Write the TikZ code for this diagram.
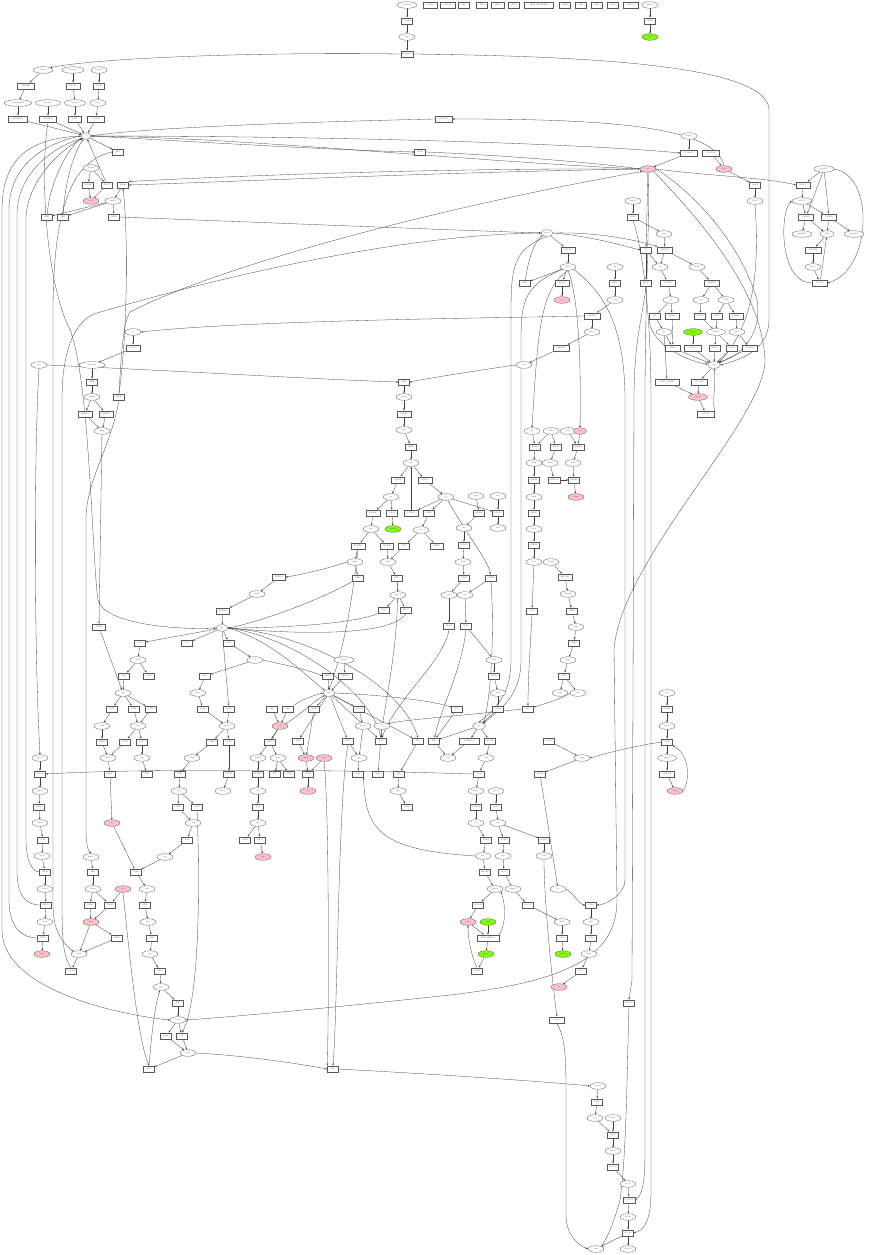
\documentclass[tikz,border=0pt]{standalone}
\usepackage{fontspec}
\setmainfont{Liberation Serif}
\usetikzlibrary{shapes.geometric,arrows.meta}
\definecolor{pinkc}{HTML}{FFC0CB}
\definecolor{greenc}{HTML}{7FFF00}
\pgfdeclarelayer{bg}
\pgfsetlayers{bg,main}
\begin{document}
\begin{tikzpicture}[x=1pt,y=-1pt,
  every node/.style={font=\fontsize{2.2}{2.5}\selectfont,text=black!60},
  bx/.style={draw=black!65,fill=white,rectangle,inner xsep=1.3pt,inner ysep=0pt,minimum height=6.6pt,minimum width=11pt,line width=0.3pt},
  el/.style={draw=black!65,fill=white,ellipse,inner xsep=0.3pt,inner ysep=0pt,minimum height=6.6pt,minimum width=16pt,line width=0.3pt},
  pk/.style={el,fill=pinkc},
  gn/.style={el,fill=greenc},
  ar/.style={-{Stealth[length=2.2pt,width=1.7pt]},line width=0.3pt,draw=black!75}]
\useasboundingbox (0,0) rectangle (872,1255);
% ---------- top row
\node[el,minimum width=20pt] (t0) at (407,5) {glc-D[e]};
\node[bx] (t1) at (407,21) {GLCpts};
\node[el] (t2) at (407,37) {g6p};
\node[bx] (t3) at (407,54) {BIOMASS};
\node[bx,minimum width=14pt] (ta) at (430,5) {GLCDe};
\node[bx,minimum width=15pt] (tb) at (448,5) {GLCDy};
\node[bx] (tc) at (464,5) {PPS};
\node[bx] (td) at (482,5) {PYK};
\node[bx,minimum width=13pt] (te) at (498,5) {ADK1};
\node[bx] (tf) at (514,5) {TKT2};
\node[bx,minimum width=29pt] (tg) at (539,5) {TEXT\_TRANSRED};
\node[bx] (th) at (565,5) {SDHA};
\node[bx] (ti) at (581,5) {EDD};
\node[bx] (tj) at (597,5) {SHE};
\node[bx] (tk) at (613,5) {SUCI};
\node[bx,minimum width=15pt] (tl) at (631,5) {NAL1\_1};
\node[el] (r0) at (650,5) {nh4[e]};
\node[bx] (r1) at (650,21) {NH4t};
\node[gn] (r2) at (650,37) {nh4};
% ---------- cluster A
\node[el,minimum width=20pt] (a1) at (43,70) {xylose};
\node[el,minimum width=22pt] (a2) at (73,70) {fucose[e]};
\node[el] (a3) at (99,70) {lac-L[e]};
\node[bx,minimum width=17pt] (a4) at (26,86) {OPMDH};
\node[bx,minimum width=14pt] (a5) at (73,86) {DSCLE};
\node[bx] (a6) at (99,86) {LCAD};
\node[el,minimum width=28pt] (a7) at (18,103) {oxoglutarate-L};
\node[el,minimum width=25pt] (a8) at (48,103) {mal-D[e]};
\node[el,minimum width=21pt] (a9) at (75,103) {fuc-L[e]};
\node[el] (a10) at (98,103) {lac-L};
\node[bx,minimum width=19pt] (a11) at (18,119) {BIOMVAL};
\node[bx,minimum width=17pt] (a12) at (48,119) {GLOBAL};
\node[bx,minimum width=13pt] (a13) at (75,119) {EDA};
\node[bx,minimum width=17pt] (a14) at (96,119) {LLACD};
\node[el,minimum width=10pt] (H1) at (86,136) {h};
\node[bx] (a15) at (118,152) {PPS};
\node[el] (a16) at (91,168) {lactose};
\node[bx] (a17) at (88,185) {FUCdh};
\node[bx] (a18) at (107,185) {FUCPI};
\node[bx] (a19) at (123,185) {NADH};
\node[pk] (a20) at (91,201) {fuc-L};
\node[el] (a21) at (113,201) {mal-L};
\node[bx] (a22) at (47,217) {ME1};
\node[bx] (a23) at (63,217) {ME2};
\node[bx] (a24) at (114,217) {MDH};
% ---------- middle top
\node[bx,minimum width=17pt] (M1) at (444,119) {ALATA\_L};
\node[bx] (M2) at (420,152) {PRO1};
\node[el,minimum width=12pt] (H2) at (547,233) {glu-L};
\node[bx,minimum width=14pt] (M3) at (568,250) {ASPTA};
\node[el] (M4) at (568,267) {asp-L};
\node[bx] (M5) at (525,283) {ASPT};
\node[bx,minimum width=14pt] (M6) at (562,283) {ASNS2};
\node[pk] (M7) at (562,300) {asn-L};
% ---------- cluster C
\node[el] (C1) at (689,136) {etoh[e]};
\node[bx,minimum width=17pt] (C2) at (689,153) {ACALD};
\node[bx,minimum width=17pt] (C3) at (711,153) {ALCD2x};
\node[pk] (P2) at (724,169) {acald};
\node[pk] (P1) at (648,169) {co2};
\node[bx] (C4) at (755,185) {ALAR};
\node[el] (C5) at (755,201) {ala-D};
\node[el,minimum width=20pt] (C6) at (824,169) {malACP};
\node[bx,minimum width=14pt] (C7) at (803,185) {KAS15};
\node[el,minimum width=20pt] (C8) at (802,201) {acACP};
\node[bx,minimum width=15pt] (C9) at (806,217) {C140SN};
\node[bx,minimum width=15pt] (C10) at (829,217) {C160SN};
\node[el,minimum width=20pt] (C11) at (802,234) {palmACP};
\node[el,minimum width=14pt] (C12) at (827,234) {ACP};
\node[el,minimum width=20pt] (C13) at (854,234) {myrsACP};
\node[bx,minimum width=16pt] (C14) at (813,250) {ACOATA};
\node[el] (C15) at (813,267) {accoa};
\node[bx,minimum width=15pt] (C16) at (820,283) {KAS14};
\node[el] (C17) at (633,201) {fum[e]};
\node[bx] (C18) at (633,217) {FUMt};
\node[el] (C19) at (664,234) {fum};
\node[bx] (C20) at (646,250) {CS};
\node[bx,minimum width=15pt] (C21) at (665,250) {MALTD};
\node[el] (C22) at (660,267) {cit};
\node[el] (C23) at (697,267) {mal-L};
\node[el] (C24) at (615,267) {cbp};
\node[bx] (C25) at (615,283) {ASPCT};
\node[el] (C26) at (615,300) {cbasp};
\node[bx] (C27) at (646,283) {PPCK};
\node[bx,minimum width=15pt] (C28) at (668,283) {ACONT};
\node[bx,minimum width=15pt] (C29) at (712,283) {MDRPD};
\node[el] (C30) at (671,300) {icit};
\node[el] (C31) at (701,300) {oaa};
\node[el] (C32) at (726,300) {2dr5p};
% ---------- cluster D
\node[bx,minimum width=16pt] (D1) at (592,316) {DHORTS};
\node[el] (D2) at (592,332) {dhor-S};
\node[bx,minimum width=16pt] (D3) at (561,348) {DHORD2};
\node[el] (D4) at (524,365) {orot};
\node[bx] (D5) at (655,316) {ICL};
\node[bx,minimum width=14pt] (D6) at (672,316) {ICDHyr};
\node[bx] (D7) at (700,316) {ACONT};
\node[bx] (D8) at (717,316) {ABTA};
\node[bx,minimum width=14pt] (D9) at (736,316) {NADPH};
\node[el] (D10) at (664,332) {glx};
\node[gn,minimum width=19pt] (D11) at (693,332) {succ[e]};
\node[el,minimum width=19pt] (D12) at (716,332) {sucsal};
\node[el] (D13) at (737,332) {4abut};
\node[bx,minimum width=15pt] (D14) at (673,348) {MALS};
\node[bx,minimum width=17pt] (D15) at (693,348) {SUCCt2};
\node[bx] (D16) at (715,348) {SSALx};
\node[bx] (D17) at (732,348) {SSALy};
\node[bx,minimum width=15pt] (D18) at (750,348) {GABTA};
\node[el,minimum width=13pt] (H4) at (714,365) {succ};
\node[bx,minimum width=24pt] (D19) at (667,382) {TEXT\_ASEDH};
\node[bx,minimum width=16pt] (D20) at (699,382) {SUCOAS};
\node[pk,minimum width=19pt] (P3) at (698,397) {succoa};
\node[bx,minimum width=17pt] (D21) at (706,414) {SUCDi};
% ---------- K cluster
\node[el] (K1) at (133,332) {pi};
\node[bx,minimum width=14pt] (K2) at (133,348) {GLCS1};
\node[el,minimum width=26pt] (K3) at (92,365) {thm-bisp};
\node[bx] (K4) at (92,382) {TMPK};
\node[el] (K5) at (92,397) {thmmp};
\node[bx,minimum width=14pt] (K6) at (85,414) {TMPPP1};
\node[bx,minimum width=14pt] (K7) at (106,414) {TMDPP};
\node[el] (K8) at (102,431) {thmpp};
\node[bx] (K9) at (119,397) {PPCK};
\node[el] (K10) at (39,365) {pyr};
\node[bx,minimum width=13pt] (K11) at (279,577) {PPNDH};
\node[el] (K12) at (257,594) {pdx5p};
\node[bx,minimum width=13pt] (K13) at (223,611) {PDX5PS};
\node[bx,minimum width=13pt] (K14) at (99,627) {NADK};
% ---------- F cluster
\node[bx] (F2) at (404,382) {ORPT};
\node[el] (F3) at (404,397) {orot5p};
\node[bx,minimum width=14pt] (F4) at (404,414) {OMPDC};
\node[el] (F5) at (404,430) {ump};
\node[bx] (F6) at (411,447) {UMPK};
\node[el] (F7) at (411,463) {udp};
\node[bx,minimum width=13pt] (F8) at (398,480) {URIDK};
\node[bx,minimum width=14pt] (F9) at (425,480) {PYNP2r};
\node[el] (F10) at (391,497) {uri};
\node[el] (F11) at (446,497) {r1p};
\node[bx,minimum width=14pt] (F12) at (373,513) {DURIK};
\node[bx] (F13) at (392,513) {URAt};
\node[gn] (F14) at (393,529) {ura[e]};
\node[bx,minimum width=14pt] (F15) at (411,513) {PYNP1};
\node[bx] (F16) at (429,513) {PPM};
\node[el] (F17) at (371,529) {duri};
\node[el] (F18) at (421,530) {r5p};
\node[bx,minimum width=14pt] (F19) at (358,546) {DURIPP};
\node[bx,minimum width=13pt] (F20) at (387,546) {DURAD};
\node[bx] (F21) at (404,546) {RPI};
\node[bx,minimum width=13pt] (F22) at (437,546) {PRPPS};
\node[el] (F23) at (355,562) {2dr1p};
\node[el] (F24) at (388,562) {ru5p};
\node[bx] (F25) at (358,578) {DRPA};
\node[bx] (F26) at (397,578) {RPE};
\node[el] (F27) at (398,595) {xu5p-D};
\node[bx] (F28) at (384,610) {TKT1};
\node[bx] (F29) at (406,610) {TKT2};
% ---------- G cluster
\node[el] (G1) at (476,496) {dad-2};
\node[el] (G2) at (498,496) {ade};
\node[bx] (G3) at (479,513) {DADA};
\node[bx] (G4) at (498,513) {PUNP1};
\node[el] (G5) at (464,528) {din};
\node[el] (G6) at (498,528) {adn};
\node[bx] (G7) at (464,545) {PUNP5};
\node[el] (G8) at (463,562) {hxan};
\node[bx] (G9) at (464,578) {PUNP3};
\node[bx] (G10) at (491,578) {PUNP4};
\node[el] (G11) at (449,595) {gsn};
\node[el] (G12) at (465,595) {ins};
\node[bx] (G13) at (449,626) {GUAD};
\node[bx] (G14) at (466,626) {PRPP};
% ---------- N cluster
\node[el] (N1) at (532,431) {pdx};
\node[el] (N2) at (551,431) {ribflv};
\node[el] (N3) at (568,431) {ru5p};
\node[pk,minimum width=13pt] (N4) at (580,431) {ptrc};
\node[bx] (N5) at (535,447) {RBFSa};
\node[bx] (N6) at (556,447) {RBFSb};
\node[bx] (N7) at (578,447) {DHPPDA};
\node[el] (N8) at (534,463) {db4p};
\node[el] (N9) at (550,463) {5aprbu};
\node[el] (N10) at (573,463) {4r5au};
\node[bx] (N11) at (534,480) {DB4PS};
\node[bx] (N12) at (554,480) {APRAUR};
\node[bx] (N13) at (574,480) {DMPRS};
\node[el] (N14) at (534,497) {dmlz};
\node[pk] (N15) at (576,497) {dhap};
\node[bx] (N16) at (534,513) {RBFK};
\node[el] (N17) at (534,529) {fmn};
\node[bx] (N18) at (534,545) {FMNAT};
\node[el] (N19) at (534,562) {fad};
\node[el] (N20) at (551,562) {dxyl5p};
\node[bx] (N21) at (532,611) {CO2t};
\node[bx,minimum width=14pt] (N22) at (565,577) {MECDPS};
\node[el] (N23) at (568,594) {2mecdp};
\node[bx] (N24) at (572,611) {IPDDI};
\node[el] (N25) at (576,627) {ipdp};
% ---------- H5 area (Z)
\node[el,minimum width=12pt] (H5) at (222,628) {atp};
\node[bx] (Z1) at (140,643) {CAT};
\node[bx] (Z2) at (187,643) {TPI};
\node[bx] (Z3) at (229,643) {TKA};
\node[el] (Z4) at (138,660) {h2o2};
\node[el] (Z5) at (255,660) {s7p};
\node[bx] (Z6) at (124,676) {PGK};
\node[bx] (Z7) at (149,676) {CAPS};
\node[bx] (Z8) at (205,676) {PRA};
\node[el] (Z9) at (123,693) {3pg};
\node[el] (Z10) at (198,693) {glyc};
\node[bx] (Z11) at (112,709) {PGLP};
\node[bx] (Z12) at (134,709) {PGM};
\node[bx] (Z13) at (151,709) {PGK2};
\node[bx] (Z14) at (203,709) {GLYK};
\node[bx] (Z15) at (229,709) {PGPA};
\node[bx] (Z16) at (272,709) {PPN};
\node[bx] (Z17) at (288,709) {PRO};
\node[el] (Z18) at (102,726) {3php};
\node[el] (Z19) at (138,726) {2pg};
\node[el] (Z20) at (227,726) {glyc3p};
\node[pk] (Z21) at (280,726) {o2};
\node[bx] (Z22) at (102,742) {PSERT};
\node[bx] (Z23) at (125,742) {PGCD};
\node[bx] (Z24) at (142,742) {ENO};
\node[bx] (Z25) at (212,742) {G3PD2};
\node[bx] (Z26) at (229,742) {PGPP};
\node[bx] (Z27) at (270,742) {GLUDC};
\node[el] (Z28) at (40,758) {glyc-R};
\node[el] (Z29) at (108,758) {pser-L};
\node[el] (Z30) at (142,758) {pep};
\node[el] (Z31) at (192,758) {dhap};
\node[el] (Z32) at (258,758) {gam6p};
\node[el] (Z33) at (278,758) {gln-L};
\node[bx] (Z34) at (40,774) {GLYCK};
\node[bx] (Z35) at (110,774) {PSP-L};
\node[bx] (Z36) at (147,774) {PYK};
\node[bx] (Z37) at (180,774) {TPI2};
\node[bx] (Z39) at (229,774) {GLUTP};
\node[bx] (Z40) at (258,774) {GF6PTA};
\node[bx] (Z41) at (275,774) {PSL};
\node[bx] (Z42) at (289,774) {GND};
\node[el] (Z43) at (40,791) {2pglyc};
\node[el] (Z44) at (179,791) {g3p};
\node[el] (Z45) at (223,791) {glc3p};
\node[el] (Z46) at (258,791) {f6p};
\node[bx] (Z47) at (39,807) {PRAIi};
\node[bx] (Z48) at (178,807) {GAPD};
\node[bx] (Z49) at (197,807) {G3PT};
\node[bx] (Z50) at (258,807) {PGI};
\node[el] (Z51) at (40,823) {2cpr5p};
\node[pk] (Z52) at (112,823) {pi};
\node[el] (Z53) at (193,823) {13dpg};
\node[el] (Z54) at (258,823) {g6p};
\node[bx] (Z55) at (43,840) {IGPS};
\node[bx] (Z56) at (187,840) {PGK};
\node[bx] (Z57) at (245,840) {G6PD};
\node[bx] (Z58) at (260,840) {HEX1};
\node[el] (Z59) at (42,856) {3ig3p};
\node[el] (Z60) at (91,857) {hom-L};
\node[el] (Z61) at (165,857) {3pg};
\node[pk] (Z62) at (263,857) {adp};
\node[bx] (Z63) at (45,872) {TRPS3};
\node[bx] (Z64) at (93,872) {HSK};
\node[bx] (Z65) at (136,872) {PGM};
\node[el] (Z66) at (45,889) {indole};
\node[el] (Z67) at (93,889) {phom};
\node[pk] (Z68) at (123,889) {h2o};
\node[el] (Z69) at (147,889) {2pg};
\node[bx] (Z70) at (46,905) {TRPS2};
\node[bx] (Z71) at (90,905) {THRS};
\node[bx] (Z72) at (110,905) {THRA2};
\node[bx] (Z73) at (145,905) {ENO};
\node[el] (Z74) at (45,922) {ser-L};
\node[pk] (Z75) at (91,922) {thr-L};
\node[el] (Z76) at (148,922) {pep};
\node[bx] (Z77) at (43,938) {TRPS1};
\node[bx] (Z78) at (117,938) {THRA};
\node[bx] (Z79) at (152,938) {PYK};
\node[pk] (Z80) at (42,954) {trp-L};
\node[el] (Z81) at (79,954) {acald};
\node[el] (Z82) at (150,954) {pyr};
\node[bx] (Z83) at (71,971) {ACALD};
\node[bx] (Z84) at (160,971) {PPS};
\node[el] (Z85) at (161,987) {pyr};
\node[bx] (Z86) at (178,1003) {PDH};
\node[el] (Z87) at (178,1020) {accoa};
\node[bx] (Z88) at (166,1036) {PTAr};
\node[bx] (Z89) at (182,1036) {CS};
\node[el] (Z90) at (188,1053) {actp};
\node[bx] (Z91) at (149,1069) {ACKr};
% ---------- X cluster
\node[el,minimum width=20pt] (X1) at (344,660) {adocbl};
\node[bx] (X2) at (328,676) {PRPPS};
\node[bx,minimum width=14pt] (X3) at (345,676) {DHPPD};
\node[el,minimum width=12pt] (H3) at (329,693) {adp};
\node[bx] (X4) at (314,709) {GMPS2};
\node[bx] (X5) at (359,709) {PDX5};
\node[bx] (X6) at (457,709) {PGI};
\node[bx] (X7) at (498,709) {ASNS};
\node[bx] (X8) at (528,709) {PFK};
\node[el] (X9) at (363,726) {glyc3p};
\node[el] (X10) at (382,726) {r1p};
\node[el,minimum width=13pt] (H6) at (479,726) {pi};
\node[bx] (X11) at (298,741) {ADK};
\node[bx] (X12) at (348,741) {TALA};
\node[bx] (X13) at (381,741) {TKT1};
\node[bx] (X14) at (418,741) {PGL};
\node[bx] (X15) at (434,741) {FBA};
\node[bx,minimum width=20pt] (X16) at (469,741) {GAPDH\_b};
\node[bx] (X17) at (490,741) {ACOD};
\node[bx] (X18) at (549,741) {PGCD};
\node[pk] (X19) at (306,758) {gmp};
\node[pk] (X20) at (324,758) {amp};
\node[el] (X21) at (359,758) {e4p};
\node[el] (X22) at (448,758) {fdp};
\node[el] (X23) at (486,758) {acon};
\node[bx] (X24) at (308,774) {CTPS2};
\node[bx] (X25) at (358,774) {GND};
\node[bx] (X26) at (378,774) {TKT2};
\node[bx] (X27) at (399,774) {PGL};
\node[bx] (X28) at (479,774) {ACO2};
\node[bx] (X29) at (540,774) {PGMT};
\node[pk] (X30) at (308,791) {ctp};
\node[el] (X31) at (398,791) {6pgc};
\node[el] (X32) at (476,791) {acon-C};
\node[el] (X33) at (496,791) {glc-D};
\node[bx] (X34) at (407,807) {GND};
\node[bx] (X35) at (476,807) {ACONTb};
\node[bx] (X36) at (496,807) {GLUK};
\node[el] (X37) at (476,823) {icit};
\node[el] (X38) at (498,823) {g6p};
\node[bx] (X39) at (486,840) {ICDHy};
\node[bx] (X40) at (504,840) {PGMT};
\node[bx] (X41) at (544,840) {ACKr};
\node[el] (X42) at (483,856) {akg};
\node[el] (X43) at (503,856) {g1p};
\node[el] (X44) at (544,856) {actp};
\node[bx] (X45) at (485,872) {AKGDH};
\node[bx] (X46) at (504,872) {GLGC};
\node[el] (X47) at (495,889) {succoa};
\node[el] (X48) at (513,889) {adpglc};
\node[el] (X49) at (558,889) {ac};
\node[bx] (X50) at (478,905) {SUCOAS};
\node[bx] (X51) at (528,905) {GLCS1};
\node[pk] (X52) at (468,922) {succ};
\node[gn] (X53) at (488,922) {coa[e]};
\node[el] (X54) at (562,922) {ac[c]};
\node[bx,minimum width=22pt] (X55) at (488,938) {PYRCOMEXA};
\node[bx] (X56) at (562,938) {ACt2r};
\node[el] (X57) at (494,660) {acald};
\node[bx] (X58) at (494,676) {ALCD2};
\node[el] (X59) at (498,693) {etoh};
\node[bx] (X60) at (574,643) {IPDDI};
\node[el] (X61) at (568,660) {dmpp};
\node[bx] (X62) at (564,676) {GRTT};
\node[el] (X63) at (560,693) {grdp};
\node[el] (X64) at (578,693) {frdp};
\node[el] (EQ) at (582,758) {udpg};
% ---------- V cluster
\node[el] (V1) at (667,693) {gal};
\node[bx] (V2) at (667,709) {GALKr};
\node[el] (V3) at (667,726) {gal1p};
\node[bx] (V4) at (667,742) {UGLT};
\node[el,minimum width=19pt] (V5) at (667,758) {udpgal};
\node[bx,minimum width=15pt] (V6) at (667,774) {UDPG4E};
\node[pk] (V7) at (675,791) {udpg};
\node[bx] (V8) at (591,905) {ACKr};
\node[el] (V9) at (591,922) {actp};
\node[bx] (V10) at (591,938) {PTAr};
\node[el] (Y0) at (589,954) {accoa};
\node[bx] (YB) at (581,971) {ACS};
\node[pk] (W5) at (559,987) {ac};
\node[gn] (W1) at (486,954) {pyr[e]};
\node[bx] (W2) at (477,971) {PYRt2};
\node[gn] (W3) at (563,954) {ac[e]};
\node[bx,minimum width=15pt] (W6) at (557,1020) {ACt2r};
% ---------- Y chain
\node[bx] (Y2) at (629,1003) {LDH\_D};
\node[bx] (Q1) at (333,1069) {PFL};
\node[el] (Y3) at (598,1086) {for[c]};
\node[bx] (Y4) at (597,1102) {FORt};
\node[el] (Y5) at (595,1118) {for};
\node[el] (Y6) at (613,1118) {fum-b};
\node[bx] (Y7) at (613,1135) {FRD7};
\node[el] (Y8) at (613,1151) {succ-b};
\node[bx] (Y9) at (613,1167) {SUCCt3};
\node[el] (Y10) at (628,1184) {lac-D};
\node[bx] (Y11) at (629,1200) {D\_LACt2};
\node[el] (Y12) at (628,1217) {lac-De};
\node[bx] (Y13) at (628,1233) {EX\_lac};
\node[el] (Y14) at (596,1249) {form};
\node[el] (Y15) at (628,1249) {lacD[e]};
\begin{pgfonlayer}{bg}
\fill[white] (0,0) rectangle (872,1255);
% =============== EDGES (short)
\draw[ar] (t0)--(t1); \draw[ar] (t1)--(t2); \draw[ar] (t2)--(t3);
\draw[ar] (r0)--(r1); \draw[ar] (r1)--(r2);
\draw[ar] (a1)--(a4); \draw[ar] (a4)--(a7); \draw[ar] (a7)--(a11);
\draw[ar] (a8)--(a12); \draw[ar] (a2)--(a5); \draw[ar] (a5)--(a9); \draw[ar] (a9)--(a13);
\draw[ar] (a3)--(a6); \draw[ar] (a6)--(a10); \draw[ar] (a10)--(a14);
\draw[ar] (a11)--(H1); \draw[ar] (a12)--(H1); \draw[ar] (a13)--(H1); \draw[ar] (a14)--(H1);
\draw[ar] (H1)--(a15);
\draw[ar] (a16)--(a17); \draw[ar] (a16)--(a18); \draw[ar] (a17)--(a20); \draw[ar] (a18)--(a20);
\draw[ar] (a18)--(H1); \draw[ar] (a19)--(a21);
\draw[ar] (a21)--(a22); \draw[ar] (a21)--(a23); \draw[ar] (a21)--(a24);
\draw[ar] (a22) .. controls (50,180) and (70,145) .. (H1);
\draw[ar] (a23) .. controls (65,180) and (75,150) .. (H1);
\draw[ar] (H2)--(M3); \draw[ar] (M3)--(M4); \draw[ar] (M4)--(M5); \draw[ar] (M4)--(M6); \draw[ar] (M6)--(M7);
\draw[ar] (M5) .. controls (528,260) and (535,240) .. (H2);
\draw[ar] (C1)--(C2); \draw[ar] (C2)--(P1); \draw[ar] (C3)--(P2); \draw[ar] (P2)--(C4); \draw[ar] (C4)--(C5);
\draw[ar] (C6)--(C7); \draw[ar] (C6)--(C9); \draw[ar] (C6)--(C10); \draw[ar] (C7)--(C8);
\draw[ar] (C8)--(C9); \draw[ar] (C8)--(C10); \draw[ar] (C9)--(C11); \draw[ar] (C9)--(C12);
\draw[ar] (C10)--(C12); \draw[ar] (C10)--(C13); \draw[ar] (C12)--(C14); \draw[ar] (C14)--(C15);
\draw[ar] (C15)--(C16); \draw[ar] (C16)--(C12);
\draw[ar] (C6.east) .. controls (875,175) and (872,270) .. (C16.east);
\draw[ar] (C16.west) .. controls (778,283) and (780,210) .. (C8.west);
\draw[ar] (C17)--(C18); \draw[ar] (C18)--(C19); \draw[ar] (C19)--(C21);
\draw[ar] (C20)--(C22); \draw[ar] (C21)--(C22); \draw[ar] (C21)--(C23); \draw[ar] (C22)--(C28);
\draw[ar] (C23)--(C29); \draw[ar] (C28)--(C30); \draw[ar] (C29)--(C31); \draw[ar] (C29)--(C32);
\draw[ar] (C24)--(C25); \draw[ar] (C25)--(C26); \draw[ar] (C26)--(D1); \draw[ar] (C20)--(C27);
\draw[ar] (P1)--(C20);
\draw[ar] (C30)--(D5); \draw[ar] (C30)--(D6); \draw[ar] (C31)--(D7); \draw[ar] (C32)--(D8); \draw[ar] (C32)--(D9);
\draw[ar] (D5)--(D10); \draw[ar] (D6)--(D14); \draw[ar] (D7)--(D12); \draw[ar] (D8)--(D12); \draw[ar] (D9)--(D13);
\draw[ar] (D10)--(D14); \draw[ar] (D10)--(D19); \draw[ar] (D11)--(D15); \draw[ar] (D12)--(D16); \draw[ar] (D12)--(D17);
\draw[ar] (D13)--(D18);
\draw[ar] (D14)--(H4); \draw[ar] (D15)--(H4); \draw[ar] (D16)--(H4); \draw[ar] (D17)--(H4); \draw[ar] (D18)--(H4);
\draw[ar] (H4)--(D20); \draw[ar] (D20)--(P3); \draw[ar] (D19)--(P3); \draw[ar] (P3)--(D21);
\draw[ar] (D21.north east) .. controls (712,400) and (716,385) .. (H4);
\draw[ar] (D5.south west) .. controls (650,345) and (690,362) .. (H4);
\draw[ar] (D1)--(D2); \draw[ar] (D2)--(D3); \draw[ar] (D3)--(D4);
\draw[ar] (K1)--(K2); \draw[ar] (K2)--(K3); \draw[ar] (K3)--(K4); \draw[ar] (K4)--(K5);
\draw[ar] (K5)--(K6); \draw[ar] (K5)--(K7); \draw[ar] (K6)--(K8); \draw[ar] (K7)--(K8);
\draw[ar] (K8)--(K14); \draw[ar] (K14)--(Z9);
\draw[ar] (K11)--(K12); \draw[ar] (K12)--(K13); \draw[ar] (K13)--(H5);
\draw[ar] (F2)--(F3); \draw[ar] (F3)--(F4); \draw[ar] (F4)--(F5); \draw[ar] (F5)--(F6); \draw[ar] (F6)--(F7);
\draw[ar] (F7)--(F8); \draw[ar] (F7)--(F9); \draw[ar] (F8)--(F10); \draw[ar] (F9)--(F11);
\draw[ar] (F10)--(F12); \draw[ar] (F10)--(F13); \draw[ar] (F13)--(F14); \draw[ar] (F15)--(F7);
\draw[ar] (F11)--(F15); \draw[ar] (F11)--(F16); \draw[ar] (F16)--(F18); \draw[ar] (F11)--(G4);
\draw[ar] (F12)--(F17); \draw[ar] (F17)--(F19); \draw[ar] (F17)--(F20); \draw[ar] (F19)--(F23); \draw[ar] (F23)--(F25);
\draw[ar] (F18)--(F21); \draw[ar] (F18)--(F22); \draw[ar] (F21)--(F24); \draw[ar] (F20)--(F24);
\draw[ar] (F24)--(F26); \draw[ar] (F26)--(F27); \draw[ar] (F27)--(F28); \draw[ar] (F27)--(F29);
\draw[ar] (G1)--(G3); \draw[ar] (G2)--(G4); \draw[ar] (G4)--(G6); \draw[ar] (G3)--(G5); \draw[ar] (G5)--(G7);
\draw[ar] (G7)--(G8); \draw[ar] (G8)--(G9); \draw[ar] (G9)--(G11); \draw[ar] (G10)--(G12);
\draw[ar] (G11)--(G13); \draw[ar] (G12)--(G14); \draw[ar] (F11) .. controls (470,540) and (488,560) .. (G10);
\draw[ar] (N1)--(N5); \draw[ar] (N2)--(N5); \draw[ar] (N2)--(N6); \draw[ar] (N3)--(N7); \draw[ar] (N4)--(N7);
\draw[ar] (N5)--(N8); \draw[ar] (N6)--(N9); \draw[ar] (N7)--(N10); \draw[ar] (N8)--(N11); \draw[ar] (N9)--(N12);
\draw[ar] (N10)--(N13); \draw[ar] (N11)--(N14); \draw[ar] (N12)--(N13); \draw[ar] (N13)--(N15);
\draw[ar] (N14)--(N16); \draw[ar] (N16)--(N17); \draw[ar] (N17)--(N18); \draw[ar] (N18)--(N19);
\draw[ar] (N19)--(N21); \draw[ar] (N20)--(N22); \draw[ar] (N22)--(N23); \draw[ar] (N23)--(N24); \draw[ar] (N24)--(N25);
\draw[ar] (N25)--(X60); \draw[ar] (X60)--(X61); \draw[ar] (X61)--(X62); \draw[ar] (X62)--(X63); \draw[ar] (X62)--(X64);
\draw[ar] (X64.west) .. controls (560,700) and (540,705) .. (X8);
\draw[ar] (N21.south) .. controls (530,650) and (528,680) .. (X8);
% Z cluster
\draw[ar] (H5)--(Z1); \draw[ar] (H5)--(Z2); \draw[ar] (H5)--(Z3); \draw[ar] (H5)--(Z15);
\draw[ar] (Z1)--(Z4); \draw[ar] (Z4)--(Z6); \draw[ar] (Z4)--(Z7); \draw[ar] (Z6)--(Z9);
\draw[ar] (Z9)--(Z11); \draw[ar] (Z9)--(Z12); \draw[ar] (Z9)--(Z13); \draw[ar] (Z11)--(Z18); \draw[ar] (Z12)--(Z19);
\draw[ar] (Z13)--(Z19); \draw[ar] (Z18)--(Z22); \draw[ar] (Z19)--(Z23); \draw[ar] (Z19)--(Z24); \draw[ar] (Z22)--(Z29);
\draw[ar] (Z23)--(Z29); \draw[ar] (Z24)--(Z30); \draw[ar] (Z29)--(Z35); \draw[ar] (Z30)--(Z36); \draw[ar] (Z35)--(Z52);
\draw[ar] (Z3)--(Z5); \draw[ar] (Z5)--(Z8); \draw[ar] (Z8)--(Z10); \draw[ar] (Z10)--(Z14); \draw[ar] (Z14)--(Z20);
\draw[ar] (Z15)--(Z20); \draw[ar] (Z20)--(Z25); \draw[ar] (Z20)--(Z26); \draw[ar] (Z25)--(Z31); \draw[ar] (Z26)--(Z39);
\draw[ar] (Z39)--(Z45); \draw[ar] (Z31)--(Z37); \draw[ar] (Z37)--(Z44); \draw[ar] (Z44)--(Z48); \draw[ar] (Z44)--(Z49);
\draw[ar] (Z48)--(Z53); \draw[ar] (Z53)--(Z56); \draw[ar] (Z56)--(Z61); \draw[ar] (Z61)--(Z65);
\draw[ar] (Z65)--(Z69); \draw[ar] (Z69)--(Z73); \draw[ar] (Z73)--(Z76); \draw[ar] (Z76)--(Z79); \draw[ar] (Z79)--(Z82);
\draw[ar] (Z82)--(Z84); \draw[ar] (Z84)--(Z85); \draw[ar] (Z85)--(Z86); \draw[ar] (Z86)--(Z87);
\draw[ar] (Z87)--(Z88); \draw[ar] (Z87)--(Z89); \draw[ar] (Z88)--(Z90); \draw[ar] (Z89)--(Z90); \draw[ar] (Z90)--(Z91);
\draw[ar] (Z91.north) .. controls (152,1030) and (155,1005) .. (Z85);
\draw[ar] (Z16)--(Z21); \draw[ar] (Z17)--(Z21); \draw[ar] (Z21)--(Z27); \draw[ar] (Z27)--(Z33); \draw[ar] (Z33)--(Z41);
\draw[ar] (Z33)--(Z42); \draw[ar] (Z21)--(Z32); \draw[ar] (Z32)--(Z40); \draw[ar] (Z40)--(Z46); \draw[ar] (Z46)--(Z50);
\draw[ar] (Z50)--(Z54); \draw[ar] (Z54)--(Z57); \draw[ar] (Z54)--(Z58); \draw[ar] (Z58)--(Z62);
\draw[ar] (Z28)--(Z34); \draw[ar] (Z34)--(Z43); \draw[ar] (Z43)--(Z47); \draw[ar] (Z47)--(Z51); \draw[ar] (Z51)--(Z55);
\draw[ar] (Z55)--(Z59); \draw[ar] (Z59)--(Z63); \draw[ar] (Z63)--(Z66); \draw[ar] (Z66)--(Z70); \draw[ar] (Z70)--(Z74);
\draw[ar] (Z74)--(Z77); \draw[ar] (Z77)--(Z80);
\draw[ar] (Z60)--(Z64); \draw[ar] (Z64)--(Z67); \draw[ar] (Z67)--(Z71); \draw[ar] (Z71)--(Z75); \draw[ar] (Z67)--(Z72);
\draw[ar] (Z68)--(Z72); \draw[ar] (Z72)--(Z75); \draw[ar] (Z75)--(Z78); \draw[ar] (Z78)--(Z81); \draw[ar] (Z75)--(Z81);
\draw[ar] (Z81)--(Z83); \draw[ar] (Z52)--(Z65);
% X cluster
\draw[ar] (X1)--(X3); \draw[ar] (X2)--(H3); \draw[ar] (X3)--(H3);
\draw[ar] (H3)--(X4); \draw[ar] (H3)--(X5); \draw[ar] (H3)--(X11); \draw[ar] (H3)--(X12);
\draw[ar] (H3)--(X13); \draw[ar] (H3)--(X14); \draw[ar] (H3.east) .. controls (380,695) and (430,700) .. (X6);
\draw[ar] (X4)--(X19); \draw[ar] (X11)--(X19); \draw[ar] (X19)--(X24); \draw[ar] (X20)--(X24); \draw[ar] (X24)--(X30);
\draw[ar] (X5)--(X9); \draw[ar] (X9)--(X21); \draw[ar] (X12)--(X21); \draw[ar] (X21)--(X25); \draw[ar] (X10)--(X26);
\draw[ar] (X8.west) .. controls (470,715) and (400,720) .. (X10);
\draw[ar] (X14)--(X27); \draw[ar] (X27)--(X31); \draw[ar] (X31)--(X34); \draw[ar] (X15)--(X22); \draw[ar] (X16)--(X22);
\draw[ar] (H6)--(X16); \draw[ar] (H6)--(X17); \draw[ar] (H6)--(X15); \draw[ar] (X17)--(X23); \draw[ar] (X23)--(X28);
\draw[ar] (X28)--(X32); \draw[ar] (X32)--(X35); \draw[ar] (X35)--(X37); \draw[ar] (X37)--(X39); \draw[ar] (X39)--(X42);
\draw[ar] (X42)--(X45); \draw[ar] (X45)--(X47); \draw[ar] (X47)--(X50); \draw[ar] (X50)--(X52); \draw[ar] (X53)--(X55);
\draw[ar] (X52)--(X55);
\draw[ar] (X55.north east) .. controls (506,925) and (506,905) .. (X47.south east);
\draw[ar] (X7)--(H6); \draw[ar] (X59)--(X7); \draw[ar] (X58)--(X59); \draw[ar] (X57)--(X58);
\draw[ar] (X33)--(X36); \draw[ar] (X36)--(X38); \draw[ar] (X38)--(X40); \draw[ar] (X40)--(X43); \draw[ar] (X43)--(X46);
\draw[ar] (X46)--(X48); \draw[ar] (X48)--(X51); \draw[ar] (X38)--(X41); \draw[ar] (X41)--(X44); \draw[ar] (X51)--(X54);
\draw[ar] (X54)--(X56); \draw[ar] (X29)--(X49); \draw[ar] (X18)--(EQ); \draw[ar] (EQ)--(X29);
\draw[ar] (G13.south) .. controls (445,660) and (395,700) .. (X13);
\draw[ar] (G14.south) .. controls (462,670) and (440,710) .. (X15);
\draw[ar] (G14)--(X57);
\draw[ar] (X6)--(X15);
% V / W / Y
\draw[ar] (V1)--(V2); \draw[ar] (V2)--(V3); \draw[ar] (V3)--(V4); \draw[ar] (V4)--(V5); \draw[ar] (V5)--(V6); \draw[ar] (V6)--(V7);
\draw[ar] (V7.east) .. controls (690,780) and (690,755) .. (V4.south east);
\draw[ar] (V4.west) .. controls (640,745) and (610,752) .. (EQ.east);
\draw[ar] (V8)--(V9); \draw[ar] (V9)--(V10); \draw[ar] (V10)--(Y0); \draw[ar] (Y0)--(YB); \draw[ar] (YB)--(W5);
\draw[ar] (X56)--(W3); \draw[ar] (X55)--(W1); \draw[ar] (W1)--(W2);
\draw[ar] (W2.north) .. controls (472,958) and (468,940) .. (X52.south);
\draw[ar] (Y3)--(Y4); \draw[ar] (Y4)--(Y5); \draw[ar] (Y5)--(Y7); \draw[ar] (Y6)--(Y7); \draw[ar] (Y7)--(Y8);
\draw[ar] (Y8)--(Y9); \draw[ar] (Y9)--(Y10); \draw[ar] (Y10)--(Y11); \draw[ar] (Y11)--(Y12); \draw[ar] (Y12)--(Y13);
\draw[ar] (Y13)--(Y15); \draw[ar] (Y13)--(Y14);
% =============== LONG EDGES
\draw[ar] (t3.west) .. controls (250,52) and (100,58) .. (a1.north east);
\draw[ar] (t3.east) .. controls (560,56) and (769,62) .. (769,110) -- (769,320) .. controls (769,350) and (740,360) .. (H4.east);
\draw[ar] (M1.west) .. controls (300,122) and (140,128) .. (H1.east);
\draw[ar] (P2.north) .. controls (715,125) and (600,119) .. (M1.east);
\draw[ar] (H1.east) .. controls (200,142) and (330,150) .. (M2.west);
\draw[ar] (M2.east) .. controls (500,155) and (600,163) .. (P1.west);
\draw[ar] (H1.east) .. controls (300,136) and (560,142) .. (C2.west);
\draw[ar] (P1.west) .. controls (450,168) and (250,175) .. (a19.north east);
\draw[ar] (P1.west) .. controls (450,172) and (250,181) .. (a19.east);
\draw[ar] (P1.west) .. controls (450,160) and (250,138) .. (H1.east);
\draw[ar] (P1.east) .. controls (700,175) and (770,178) .. (C7.west);
\draw[ar] (a24.east) .. controls (250,222) and (450,230) .. (H2.west);
\draw[ar] (K9.north) .. controls (122,340) and (124,322) .. (130,312) .. controls (220,265) and (450,205) .. (P1.south west);
\draw[ar] (K9.north) .. controls (128,330) and (128,230) .. (a19.south);
\draw[ar] (Z83.north) .. controls (62,955) and (62,935) .. (62,890) -- (62,400) .. controls (62,340) and (80,318) .. (97,313) .. controls (250,268) and (420,234) .. (H2.west);
\draw[ar] (a15.west) .. controls (75,160) and (53,200) .. (53,313) -- (53,905) .. controls (53,935) and (66,945) .. (Z81.north west);
\draw[ar] (a12.south) .. controls (40,170) and (45,280) .. (70,330) .. controls (90,380) and (92,560) .. (98,600) .. controls (105,625) and (180,630) .. (H5.west);
\draw[ar] (H1.west) .. controls (40,138) and (2,150) .. (2,210) -- (2,930) .. controls (2,990) and (120,1015) .. (Z87.west);
\draw[ar] (Z77.west) .. controls (20,938) and (9,925) .. (9,900) -- (9,210) .. controls (9,162) and (50,142) .. (H1.west);
\draw[ar] (Z70.west) .. controls (25,905) and (17,895) .. (17,870) -- (17,215) .. controls (17,172) and (55,146) .. (H1.south west);
\draw[ar] (Z63.west) .. controls (32,872) and (26,860) .. (26,840) -- (26,220) .. controls (26,182) and (60,150) .. (H1.south west);
\draw[ar] (P1.east) .. controls (690,190) and (740,240) .. (757,300) .. controls (762,330) and (745,355) .. (H4.north east);
\draw[ar] (P1.south east) .. controls (700,220) and (762,290) .. (765,360) .. controls (765,420) and (620,560) .. (614,650) -- (617,900) .. controls (617,960) and (560,982) .. (450,995) .. controls (330,1008) and (230,1017) .. (Z87.east);
\draw[ar] (C5.south) .. controls (758,250) and (760,320) .. (H4.north east);
\draw[ar] (P1.south) .. controls (650,220) and (645,300) .. (645,400) -- (645,1150) .. controls (645,1185) and (642,1195) .. (Y11.east);
\draw[ar] (C18.south) .. controls (640,240) and (651,300) .. (651,400) -- (651,1190) .. controls (651,1220) and (645,1230) .. (Y13.east);
\draw[ar] (C27.south) .. controls (642,320) and (634,340) .. (634,400) -- (632,980) -- (Y2.north);
\draw[ar] (M4.south east) .. controls (600,290) and (625,320) .. (625,400) -- (625,880) .. controls (625,895) and (605,905) .. (V8.east);
\draw[ar] (H2.south) .. controls (511,250) and (511,270) .. (511,320) -- (511,660) .. controls (511,700) and (490,712) .. (H6.north);
\draw[ar] (M4.south west) .. controls (525,285) and (521,300) .. (521,340) -- (521,660) .. controls (521,700) and (495,712) .. (H6.north east);
\draw[ar] (M4.south) .. controls (540,290) and (538,330) .. (N1.north);
\draw[ar] (M4.south) .. controls (580,300) and (581,380) .. (N4.north);
\draw[ar] (H2.east) .. controls (590,236) and (620,245) .. (C20.west);
\draw[ar] (H2.east) .. controls (590,232) and (630,238) .. (C21.north west);
\draw[ar] (D1.west) .. controls (500,318) and (250,320) .. (K1.east);
\draw[ar] (K10.east) .. controls (200,372) and (330,380) .. (F2.west);
\draw[ar] (D4.west) .. controls (480,370) and (430,378) .. (F2.east);
\draw[ar] (F23.west) .. controls (330,568) and (300,575) .. (K11.east);
\draw[ar] (K9.south) .. controls (110,450) and (86,480) .. (86,520) -- (86,830) .. controls (86,845) and (88,850) .. (Z60.north);
\draw[ar] (K10.south) .. controls (34,450) and (34,650) .. (Z28.north);
\draw[ar] (F25.south west) .. controls (320,600) and (260,622) .. (H5.east);
\draw[ar] (F28.south west) .. controls (350,625) and (270,628) .. (H5.east);
\draw[ar] (F29.south) .. controls (390,640) and (270,632) .. (H5.east);
\draw[ar] (H5.east) .. controls (270,640) and (300,670) .. (H3.north west);
\draw[ar] (H5.east) .. controls (290,636) and (370,690) .. (X13.north);
\draw[ar] (H5.east) .. controls (300,632) and (400,680) .. (X14.north);
\draw[ar] (Z5.east) .. controls (280,664) and (310,670) .. (X2.west);
\draw[ar] (Z17.north east) .. controls (300,700) and (315,695) .. (H3.west);
\draw[ar] (Z21.north east) .. controls (300,715) and (315,700) .. (H3.south west);
\draw[ar] (X20.south) .. controls (329,800) and (329,1000) .. (Q1.north west);
\draw[ar] (X12.south) .. controls (338,800) and (338,1000) .. (Q1.north);
\draw[ar] (Z90.east) .. controls (250,1056) and (300,1064) .. (Q1.west);
\draw[ar] (Q1.east) .. controls (450,1075) and (550,1082) .. (Y3.west);
\draw[ar] (X44.south) .. controls (544,900) and (552,980) .. (W6.north);
\draw[ar] (W6.south) .. controls (566,1040) and (566,1060) .. (566,1100) -- (566,1215) .. controls (566,1235) and (578,1245) .. (Y14.west);
\draw[ar] (Y2.south) .. controls (627,1060) and (627,1150) .. (620,1200) .. controls (612,1230) and (605,1240) .. (Y14.north east);
\draw[ar] (X42.west) .. controls (380,850) and (365,830) .. (X25.south east);
\draw[ar] (X28.west) .. controls (350,770) and (150,768) .. (Z34.east);
\draw[ar] (X49.east) .. controls (575,895) and (580,905) .. (V8.west);
\draw[ar] (Z49.south) .. controls (200,880) and (200,1000) .. (Z89.north);
\draw[ar] (Z68.south) .. controls (130,960) and (138,1040) .. (Z91.north);
\draw[ar] (F19.south) .. controls (350,620) and (340,660) .. (H3.north);
\draw[ar] (F26.south) .. controls (400,640) and (385,700) .. (X13.north);
\draw[ar] (G10.south) .. controls (495,640) and (490,700) .. (H6.north east);
\end{pgfonlayer}
\end{tikzpicture}
\end{document}
